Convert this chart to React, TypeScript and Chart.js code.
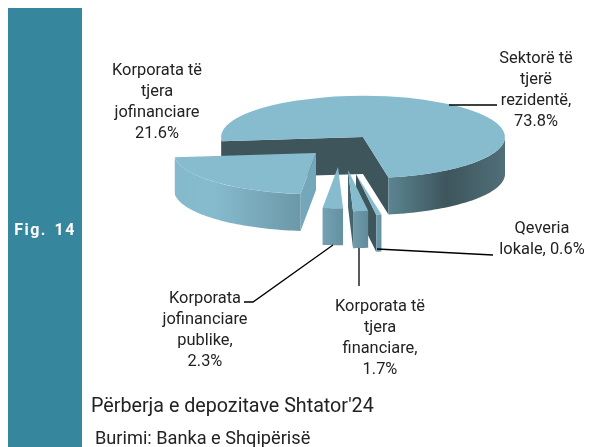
import React, { useEffect, useRef } from "react";
import { Chart, registerables } from "chart.js";

Chart.register(...registerables);

const categories = [
  "Sektorë të tjerë rezidentë",
  "Qeveria lokale",
  "Korporata të tjera financiare",
  "Korporata jofinanciare publike",
  "Korporata të tjera jofinanciare",
];
const shares = [73.8, 0.6, 1.7, 2.3, 21.6];
const labelLines = [
  ["Sektorë të", "tjerë", "rezidentë,"],
  ["Qeveria", "lokale,"],
  ["Korporata të", "tjera", "financiare,"],
  ["Korporata", "jofinanciare", "publike,"],
  ["Korporata të", "tjera", "jofinanciare"],
];
const figureLabel = "Fig. 14";
const captionText = "Përberja e depozitave Shtator'24";
const sourceText = "Burimi: Banka e Shqipërisë";

// view of the pie
const CENTER_X = 363;
const CENTER_Y = 137;
const SQUASH = 0.29;
const DEPTH = 37;
const FONT = "Roboto, 'Liberation Sans', sans-serif";
const sliceStyles = [
  { dx: 0, dy: 0, top: "#87bccf", cut: "#3e555c", wall: [[0, "#5b8591"], [0.5, "#3e555c"], [1, "#506f79"]] },
  { dx: -7, dy: 37, top: "#87bccf", cut: "#3e555c", wall: [[0, "#6f9cac"], [1, "#6492a2"]] },
  { dx: -15, dy: 33, top: "#87bccf", cut: "#456470", wall: [[0, "#6f9bab"], [1, "#5f8b9b"]] },
  { dx: -25, dy: 30, top: "#87bccf", cut: "#6f9dae", wall: [[0, "#74a2b2"], [1, "#6591a1"]] },
  { dx: -47, dy: 16, top: "#87bccf", cut: "#74a7ba", wall: [[0, "#85b9cc"], [0.3, "#86bbce"], [1, "#6c98a8"]] },
];
const labelStyles = [
  { x: 536, y: 59 },
  { x: 542, y: 229, inline: true },
  { x: 380, y: 307 },
  { x: 205, y: 299 },
  { x: 157, y: 71 },
];
const leaders = [
  [[449, 105], [497, 105]],
  [[377, 249], [493, 255]],
  [[359, 248], [359, 286]],
  [[333, 245], [253, 302], [244, 302]],
];

const pie3d = {
  id: "pie3d",
  beforeDatasetDraw(chart: any, args: any) {
    const ctx = chart.ctx;
    const arcs = args.meta.data;
    arcs.forEach((arc: any, i: number) => {
      const st = sliceStyles[i];
      const r = arc.outerRadius;
      const ax = CENTER_X + st.dx;
      const ay = CENTER_Y + st.dy;
      const pt = (a: number) => [ax + r * Math.cos(a), ay + r * SQUASH * Math.sin(a)];
      const a0 = arc.startAngle;
      const a1 = arc.endAngle;

      const cutWall = (a: number) => {
        const p = pt(a);
        ctx.beginPath();
        ctx.moveTo(ax, ay);
        ctx.lineTo(p[0], p[1]);
        ctx.lineTo(p[0], p[1] + DEPTH);
        ctx.lineTo(ax, ay + DEPTH);
        ctx.closePath();
        ctx.fillStyle = st.cut;
        ctx.fill();
      };
      if (Math.cos(a0) < 0) cutWall(a0);
      if (Math.cos(a1) > 0) cutWall(a1);

      // outer rim: the parts of the arc on the viewer's side
      [0, 2 * Math.PI].forEach((k) => {
        const from = Math.max(a0, k);
        const to = Math.min(a1, k + Math.PI);
        if (to <= from) return;
        const n = 48;
        const left = pt(to)[0];
        const right = pt(from)[0];
        const wide = Math.abs(right - left) > 12;
        const g = ctx.createLinearGradient(left, 0, right, 0);
        st.wall.forEach(([o, c]: any) => g.addColorStop(o, c));
        ctx.beginPath();
        for (let j = 0; j <= n; j++) {
          const p = pt(from + ((to - from) * j) / n);
          if (j === 0) ctx.moveTo(p[0], p[1]);
          else ctx.lineTo(p[0], p[1]);
        }
        for (let j = n; j >= 0; j--) {
          const p = pt(from + ((to - from) * j) / n);
          ctx.lineTo(p[0], p[1] + DEPTH);
        }
        ctx.closePath();
        ctx.fillStyle = wide || i > 0 ? g : st.cut;
        ctx.fill();
      });

      // top surface, drawn by the library's arc element
      ctx.save();
      ctx.translate(ax, ay);
      ctx.scale(1, SQUASH);
      ctx.translate(-arc.x, -arc.y);
      arc.draw(ctx);
      ctx.restore();
    });
    return false;
  },
  afterDraw(chart: any) {
    const ctx = chart.ctx;
    ctx.save();
    ctx.strokeStyle = "#000000";
    ctx.lineWidth = 1.3;
    leaders.forEach((pts) => {
      ctx.beginPath();
      pts.forEach((p, j) => (j ? ctx.lineTo(p[0], p[1]) : ctx.moveTo(p[0], p[1])));
      ctx.stroke();
    });
    ctx.fillStyle = "#222222";
    ctx.font = `16.4px ${FONT}`;
    ctx.textAlign = "center";
    ctx.textBaseline = "middle";
    const LINE = 21;
    labelLines.forEach((lines, i) => {
      const pos = labelStyles[i];
      const value = `${shares[i].toFixed(1)}%`;
      const all = pos.inline
        ? [...lines.slice(0, -1), `${lines[lines.length - 1]} ${value}`]
        : [...lines, value];
      all.forEach((t, j) => ctx.fillText(t, pos.x, pos.y + j * LINE));
    });
    ctx.restore();
  },
};

export default function App() {
  const ref = useRef<HTMLCanvasElement>(null);
  useEffect(() => {
    const chart = new Chart(ref.current as HTMLCanvasElement, {
      type: "pie",
      data: {
        labels: categories,
        datasets: [
          {
            data: shares,
            backgroundColor: sliceStyles.map((s) => s.top),
            borderWidth: 0,
            hoverOffset: 0,
          },
        ],
      },
      options: {
        responsive: false,
        animation: false,
        rotation: 264,
        layout: { padding: { left: 221, right: 91, top: 81, bottom: 82 } },
        plugins: { legend: { display: false }, tooltip: { enabled: false }, title: { display: false } },
      },
      plugins: [pie3d],
    } as any);
    return () => chart.destroy();
  }, []);

  return (
    <div style={{ position: "absolute", left: 0, top: 0, width: 596, height: 447, overflow: "hidden", background: "#fff" }}>
      <div
        style={{
          position: "absolute",
          left: 8,
          top: 8,
          width: 74,
          height: 439,
          background: "#36869d",
        }}
      />
      <canvas ref={ref} width={596} height={447} style={{ position: "absolute", left: 0, top: 0 }} />
      <div
        style={{
          position: "absolute",
          left: 8,
          top: 220,
          width: 74,
          textAlign: "center",
          color: "#fff",
          font: `bold 16px Roboto, sans-serif`,
          letterSpacing: "1.5px",
          wordSpacing: "2px",
          whiteSpace: "nowrap",
        }}
      >
        {figureLabel}
      </div>
      <div style={{ position: "absolute", left: 91, top: 394, color: "#222", font: `19.7px ${FONT}`, whiteSpace: "nowrap" }}>
        {captionText}
      </div>
      <div style={{ position: "absolute", left: 95, top: 427, color: "#222", font: `18.2px ${FONT}`, whiteSpace: "nowrap" }}>
        {sourceText}
      </div>
    </div>
  );
}
